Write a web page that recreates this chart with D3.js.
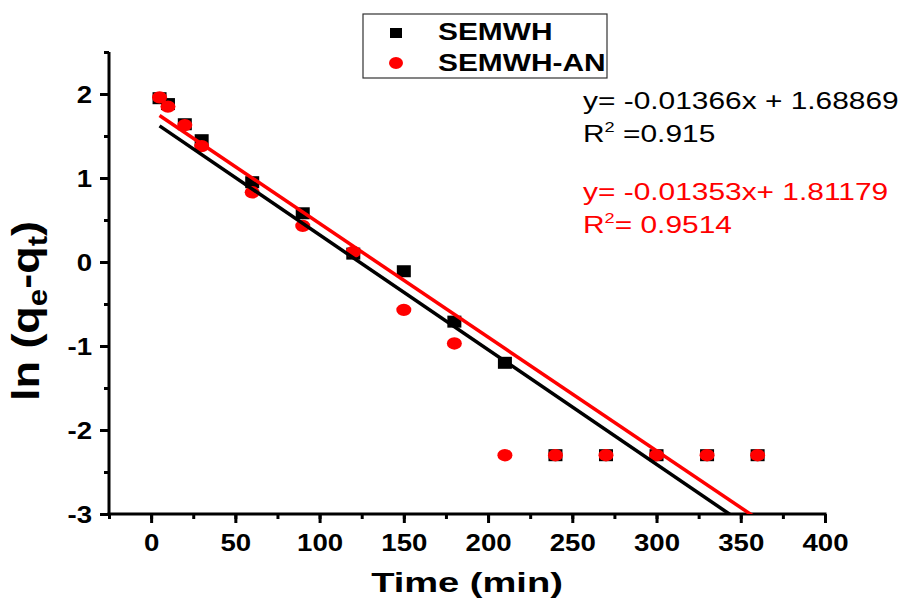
<!DOCTYPE html>
<meta charset="utf-8">
<style>
body { margin: 0; background: #fff; }
text { font-family: "Liberation Sans", Arial, sans-serif; }
</style>
<body>
<div class="chart"></div>
<script src="https://cdn.jsdelivr.net/npm/d3@7"></script>
<script>

var seriesNames = ["SEMWH", "SEMWH-AN"];
var timeValues = [5, 10, 20, 30, 60, 90, 120, 150, 180, 210, 240, 270, 300, 330, 360];
var semwh = [1.95, 1.88, 1.64, 1.45, 0.95, 0.58, 0.1, -0.11, -0.71, -1.2, -2.3, -2.3, -2.3, -2.3, -2.3];
var semwhAn = [1.96, 1.85, 1.63, 1.38, 0.83, 0.43, 0.12, -0.57, -0.97, -2.3, -2.3, -2.3, -2.3, -2.3, -2.3];
// fitted lines: [slope, intercept]
var fitSemwh = [-0.01366, 1.68869];
var fitSemwhAn = [-0.01353, 1.81179];
var fitRange = [5, 360];
var xTicks = [0, 50, 100, 150, 200, 250, 300, 350, 400];
var yTicks = [-3, -2, -1, 0, 1, 2];
var eqLines = [
  ["y= -0.01366x + 1.68869", "R", "2", " =0.915"],
  ["y= -0.01353x+ 1.81179", "R", "2", "= 0.9514"]
];

var width = 900, height = 602;
var SX = 1.3; // the original is horizontally stretched

var svg = d3.select(".chart").append("svg")
    .attr("width", width)
    .attr("height", height);

var x = d3.scaleLinear().domain([-25, 400]).range([109, 825]);
var y = d3.scaleLinear().domain([-3, 2.5]).range([514, 52]);

svg.append("clipPath").attr("id", "plot")
  .append("rect")
    .attr("x", x(-25)).attr("y", y(2.5))
    .attr("width", x(400) - x(-25)).attr("height", y(-3) - y(2.5));

function plain(d) { return String(d); }

// minor ticks
var xMinor = d3.range(-25, 401, 25);
var yMinor = d3.range(-3, 2.51, 0.5);

svg.append("g")
    .attr("transform", "translate(0," + y(-3) + ")")
    .call(d3.axisBottom(x).tickValues(xMinor).tickSize(5).tickFormat(""))
    .call(function(g) { g.select(".domain").remove(); })
    .selectAll("line").attr("stroke", "#000").attr("stroke-width", 3);

svg.append("g")
    .attr("transform", "translate(" + x(-25) + ",0)")
    .call(d3.axisLeft(y).tickValues(yMinor).tickSize(5).tickFormat(""))
    .call(function(g) { g.select(".domain").remove(); })
    .selectAll("line").attr("stroke", "#000").attr("stroke-width", 3);

var xAxis = svg.append("g")
    .attr("transform", "translate(0," + y(-3) + ")")
    .call(d3.axisBottom(x).tickValues(xTicks).tickSize(9).tickSizeOuter(0).tickFormat(plain));
xAxis.select(".domain").attr("stroke-width", 3).attr("d", "M" + (x(-25) - 1.5) + ",0H" + (x(400) + 1.5));
xAxis.selectAll("line").attr("stroke-width", 3);
xAxis.selectAll("text")
    .attr("y", 37).attr("dy", 0)
    .attr("transform", "scale(1.2,1)")
    .style("font-size", "23px").style("font-weight", "bold").attr("fill", "#000");

var yAxis = svg.append("g")
    .attr("transform", "translate(" + x(-25) + ",0)")
    .call(d3.axisLeft(y).tickValues(yTicks).tickSize(9).tickSizeOuter(0).tickFormat(plain));
yAxis.select(".domain").attr("stroke-width", 3).attr("d", "M0," + y(2.5) + "V" + (y(-3) + 1.5));
yAxis.selectAll("line").attr("stroke-width", 3);
yAxis.selectAll("text")
    .attr("x", -17 / 1.2).attr("dy", "0.36em")
    .attr("transform", "scale(1.2,1)")
    .style("font-size", "23px").style("font-weight", "bold").attr("fill", "#000");

// axis titles
svg.append("text")
    .attr("transform", "translate(467,592) scale(1.36,1)")
    .attr("text-anchor", "middle")
    .style("font-size", "28px").style("font-weight", "bold")
    .text("Time (min)");

var yl = svg.append("text")
    .attr("transform", "translate(39,311) scale(1.08,1.25) rotate(-90)")
    .attr("text-anchor", "middle")
    .style("font-size", "36px").style("font-weight", "bold");
yl.append("tspan").text("ln (q");
yl.append("tspan").attr("dy", 7).style("font-size", "25px").text("e");
yl.append("tspan").attr("dy", -7).text("-q");
yl.append("tspan").attr("dy", 7).style("font-size", "25px").text("t");
yl.append("tspan").attr("dy", -7).text(")");

// scatter
var ptsA = timeValues.map(function(t, i) { return [t, semwh[i]]; });
var ptsB = timeValues.map(function(t, i) { return [t, semwhAn[i]]; });

svg.append("g").selectAll("rect")
    .data(ptsA).enter().append("rect")
    .attr("x", function(d) { return x(d[0]) - 7; })
    .attr("y", function(d) { return y(d[1]) - 6; })
    .attr("width", 14).attr("height", 12)
    .attr("fill", "#000");

svg.append("g").selectAll("ellipse")
    .data(ptsB).enter().append("ellipse")
    .attr("cx", function(d) { return x(d[0]); })
    .attr("cy", function(d) { return y(d[1]); })
    .attr("rx", 7.5).attr("ry", 6.2)
    .attr("fill", "#ff0000");

// fit lines
var line = d3.line().x(function(d) { return x(d[0]); }).y(function(d) { return y(d[1]); });
[[fitSemwh, "#000"], [fitSemwhAn, "#ff0000"]].forEach(function(f) {
  var p = fitRange.map(function(t) { return [t, f[0][0] * t + f[0][1]]; });
  svg.append("path")
      .attr("clip-path", "url(#plot)")
      .attr("d", line(p))
      .attr("fill", "none")
      .attr("stroke", f[1])
      .attr("stroke-width", 3.5);
});

// legend
var lg = svg.append("g");
lg.append("rect")
    .attr("x", 363).attr("y", 14).attr("width", 244).attr("height", 64)
    .attr("fill", "#fff").attr("stroke", "#333").attr("stroke-width", 1.2);
lg.append("rect").attr("x", 390).attr("y", 28).attr("width", 12).attr("height", 10).attr("fill", "#000");
lg.append("ellipse").attr("cx", 396).attr("cy", 63).attr("rx", 7).attr("ry", 6).attr("fill", "#ff0000");
seriesNames.forEach(function(n, i) {
  lg.append("text")
      .attr("transform", "translate(438," + (40 + i * 31) + ") scale(" + SX + ",1)")
      .style("font-size", "23px").style("font-weight", "bold")
      .text(n);
});

// equations
var eqColors = ["#000", "#ff0000"];
var eqBase = [[109, 142], [200, 233]];
eqLines.forEach(function(e, i) {
  svg.append("text")
      .attr("transform", "translate(583," + eqBase[i][0] + ") scale(" + SX + ",1)")
      .attr("fill", eqColors[i])
      .style("font-size", "23px")
      .text(e[0]);
  var t = svg.append("text")
      .attr("transform", "translate(583," + eqBase[i][1] + ") scale(" + SX + ",1)")
      .attr("fill", eqColors[i])
      .style("font-size", "23px");
  t.append("tspan").text(e[1]);
  t.append("tspan").attr("dy", -10).style("font-size", "14px").text(e[2]);
  t.append("tspan").attr("dy", 10).text(e[3]);
});

</script>
</body>
